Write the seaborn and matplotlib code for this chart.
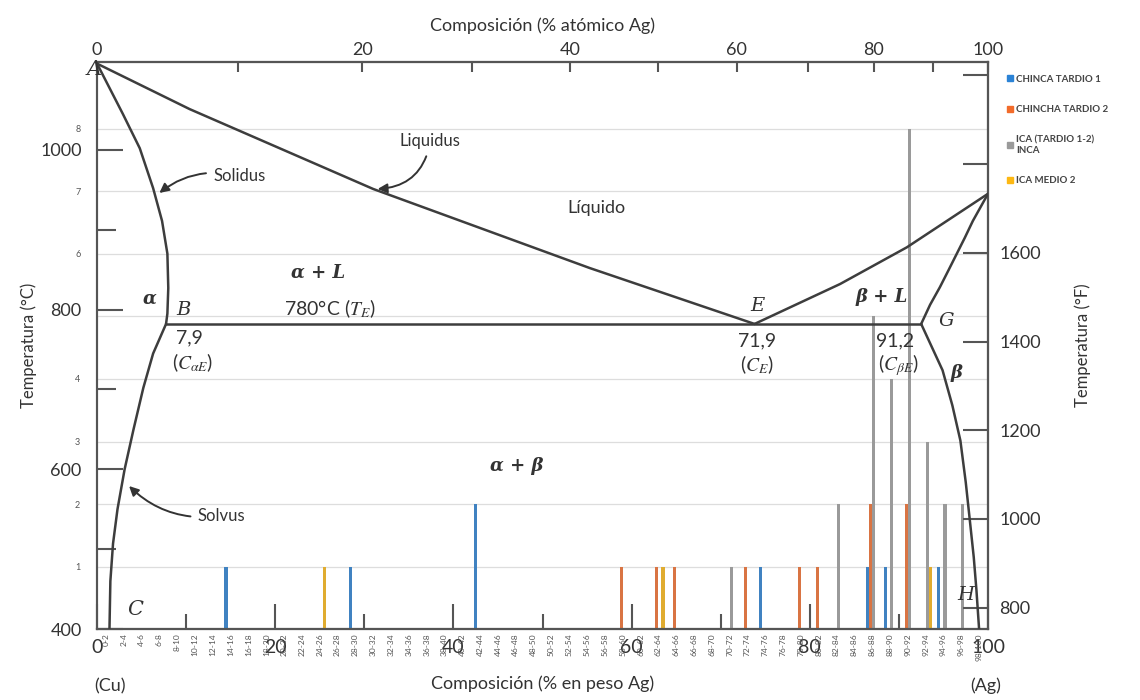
import numpy as np
import pandas as pd
import matplotlib.pyplot as plt
import seaborn as sns
from matplotlib.patches import Patch

# --- histogram data: lower edge of 2 wt% bins and counts per group ---
blue_bins = [14, 28, 42, 74, 86, 88, 94]
blue_counts = [1, 1, 2, 1, 1, 1, 1]
orange_bins = [58, 62, 64, 72, 78, 80, 86, 90]
orange_counts = [1, 1, 1, 1, 1, 1, 2, 2]
grey_bins = [70, 82, 86, 88, 90, 92, 94, 96]
grey_counts = [1, 2, 5, 4, 8, 3, 2, 2]
yellow_bins = [24, 62, 92]
yellow_counts = [1, 1, 1]

series = ["CHINCA TARDIO 1", "CHINCHA TARDIO 2", "ICA (TARDIO 1-2)\nINCA", "ICA MEDIO 2"]
colors = ["#2b83d6", "#f26b2a", "#9a9a9a", "#fdb813"]
bin_labels = [f"{i}-{i + 2}" for i in range(0, 100, 2)]
count_labels = ["1", "2", "3", "4", "", "6", "7", "8"]

# --- Cu-Ag phase diagram (wt% Ag, degC) ---
liq_left_w = [0, 10.4, 31.0, 55.3, 73.8]
liq_left_t = [1108, 1051, 951, 852, 782]
liq_right_w = [73.8, 83.4, 90.9, 100]
liq_right_t = [782, 832, 878, 945]
sol_left_w = [0, 2.9, 4.8, 6.3, 7.3, 7.9, 8.0, 7.9, 7.75]
sol_left_t = [1108, 1045, 1002, 952, 911, 870, 827, 795, 782]
solv_left_w = [7.75, 6.3, 5.2, 4.1, 3.1, 2.3, 1.8, 1.5, 1.4]
solv_left_t = [782, 745, 702, 650, 600, 550, 507, 460, 400]
sol_right_w = [92.5, 93.5, 94.6, 95.6, 96.5, 97.4, 98.3, 100]
sol_right_t = [782, 806, 828, 850, 870, 890, 911, 945]
solv_right_w = [92.5, 93.7, 94.9, 96.0, 96.9, 97.5, 98.0, 98.4, 98.7, 99.0]
solv_right_t = [782, 753, 724, 680, 636, 584, 532, 490, 449, 400]
eut_w = [7.75, 92.5]
eut_t = [782, 782]

sns.set_style("white")
plt.rcParams["font.family"] = ["Lato", "DejaVu Sans"]
plt.rcParams["mathtext.fontset"] = "stix"

line_c = "#3d3d3d"
text_c = "#333333"

rows = []
for name, bins, counts in zip(series, [blue_bins, orange_bins, grey_bins, yellow_bins],
                              [blue_counts, orange_counts, grey_counts, yellow_counts]):
    for b, c in zip(bins, counts):
        rows.append({"centro": b + 1, "serie": name, "n": c})
df = pd.DataFrame(rows)

fig = plt.figure(figsize=(11.4, 7), dpi=100)
ax = fig.add_axes([97 / 1140, 71 / 700, 891 / 1140, 567 / 700])

sns.barplot(data=df, x="centro", y="n", hue="serie", hue_order=series, palette=colors,
            native_scale=True, width=0.7, errorbar=None, legend=False, ax=ax,
            linewidth=0, zorder=2)
ax.set_xlim(0, 100)
ax.set_ylim(0, 567 / 62.5)
ax.set_xlabel("")
ax.set_ylabel("")
ax.set_xticks(np.arange(1, 100, 2), bin_labels, rotation=90, fontsize=6)
ax.tick_params(axis="x", length=0, pad=3, labelcolor="#555555")
ax.set_yticks(range(1, 9), count_labels)
ax.tick_params(axis="y", length=0, pad=12, labelsize=6.5, labelcolor="#555555")
ax.yaxis.grid(True, color="#dddddd", lw=0.9)
ax.set_axisbelow(True)
for s in ax.spines.values():
    s.set_color("#555555")
    s.set_linewidth(1.5)

# temperature axis for the phase diagram
tax = ax.twinx()
tax.set_ylim(400, 1110)
tax.yaxis.tick_left()
tax.yaxis.set_label_position("left")
tax.set_yticks([400, 600, 800, 1000])
tax.set_yticks([500, 700, 900], minor=True)
tax.tick_params(axis="y", which="major", direction="in", length=19, width=1.5,
                labelsize=13, pad=11, color="#555555", labelcolor=text_c)
tax.tick_params(axis="y", which="minor", direction="in", length=14, width=1.5, color="#555555")
tax.set_ylabel("Temperatura (°C)", fontsize=12, color=text_c, labelpad=2)
for s in tax.spines.values():
    s.set_color("#555555")
    s.set_linewidth(1.5)

for w, t in [(liq_left_w, liq_left_t), (liq_right_w, liq_right_t), (sol_left_w, sol_left_t),
             (solv_left_w, solv_left_t), (sol_right_w, sol_right_t),
             (solv_right_w, solv_right_t), (eut_w, eut_t)]:
    tax.plot(w, t, color=line_c, lw=1.8, zorder=3, solid_joinstyle="round")


def c2f(c):
    return np.asarray(c) * 9 / 5 + 32


def f2c(f):
    return (np.asarray(f) - 32) * 5 / 9


fax = tax.secondary_yaxis("right", functions=(c2f, f2c))
fax.set_yticks([800, 1000, 1200, 1400, 1600, 1800, 2000],
               ["800", "1000", "1200", "1400", "1600", "", ""])
fax.tick_params(direction="in", length=18, width=1.5, labelsize=13, pad=8,
                color="#555555", labelcolor=text_c)
fax.set_ylabel("Temperatura (°F)", fontsize=12, color=text_c, labelpad=24)
fax.spines["right"].set_color("#555555")
fax.spines["right"].set_linewidth(1.5)


def w2a(w):
    w = np.asarray(w, dtype=float)
    with np.errstate(divide="ignore", invalid="ignore"):
        return (w / 107.87) / (w / 107.87 + (100 - w) / 63.55) * 100


def a2w(a):
    a = np.asarray(a, dtype=float)
    with np.errstate(divide="ignore", invalid="ignore"):
        return a * 107.87 / (a * 107.87 + (100 - a) * 63.55) * 100


top = ax.secondary_xaxis("top", functions=(w2a, a2w))
top.set_xticks([0, 20, 40, 60, 80, 100])
top.set_xticks([10, 30, 50, 70, 90], minor=True)
top.tick_params(which="both", direction="in", length=7, width=1.5, labelsize=13, pad=3,
                color="#555555", labelcolor=text_c)
top.set_xlabel("Composición (% atómico Ag)", fontsize=13, color=text_c, labelpad=8)
top.spines["top"].set_color("#555555")
top.spines["top"].set_linewidth(1.5)

bot = ax.secondary_xaxis("bottom")
bot.set_xticks([0, 20, 40, 60, 80, 100])
bot.set_xticks([10, 30, 50, 70, 90], minor=True)
bot.tick_params(which="major", direction="in", length=18, width=1.5, labelsize=14, pad=7,
                color="#555555", labelcolor=text_c)
bot.tick_params(which="minor", direction="in", length=11, width=1.5, color="#555555")
bot.set_xlabel("Composición (% en peso Ag)", fontsize=13, color=text_c, labelpad=14)
bot.spines["bottom"].set_color("#555555")
bot.spines["bottom"].set_linewidth(1.5)

# --- diagram labels ---
serif_it = dict(family="DejaVu Serif", style="italic", color=text_c, ha="center", va="center")
sans = dict(color=text_c, ha="center", va="center")
tax.text(-0.3, 1101, "A", fontsize=15, clip_on=False, **serif_it)
tax.text(24.8, 846, "α + L", fontsize=13, weight="bold", **serif_it)
tax.text(5.9, 814, "α", fontsize=13, weight="bold", **serif_it)
tax.text(9.7, 799, "B", fontsize=14, **serif_it)
tax.text(74.1, 805, "E", fontsize=14, **serif_it)
tax.text(88.1, 816, "β + L", fontsize=13, weight="bold", **serif_it)
tax.text(95.3, 786, "G", fontsize=14, **serif_it)
tax.text(96.5, 721, "β", fontsize=13, weight="bold", **serif_it)
tax.text(47.1, 604, "α + β", fontsize=13, weight="bold", **serif_it)
tax.text(4.3, 424, "C", fontsize=15, **serif_it)
tax.text(97.5, 442, "H", fontsize=14, **serif_it)

tax.text(56.1, 927, "Líquido", fontsize=13, **sans)
tax.text(26.1, 801, "780°C ($T_E$)", fontsize=14, **sans)
tax.text(10.4, 764, "7,9", fontsize=14, **sans)
tax.text(10.7, 734, r"($C_{\alpha E}$)", fontsize=14, **sans)
tax.text(74.1, 761, "71,9", fontsize=14, **sans)
tax.text(74.1, 731, r"($C_E$)", fontsize=14, **sans)
tax.text(89.6, 761, "91,2", fontsize=14, **sans)
tax.text(89.9, 731, r"($C_{\beta E}$)", fontsize=14, **sans)

arrow = dict(arrowstyle="-|>", color=text_c, lw=1.4, mutation_scale=14, shrinkA=3, shrinkB=0)
tax.annotate("Solidus", xy=(7.0, 946), xytext=(16.0, 967), fontsize=12, **sans,
             arrowprops=dict(arrow, connectionstyle="arc3,rad=0.25"))
tax.annotate("Liquidus", xy=(31.5, 951), xytext=(37.4, 1011), fontsize=12, **sans,
             arrowprops=dict(arrow, connectionstyle="arc3,rad=-0.4"))
tax.annotate("Solvus", xy=(3.6, 579), xytext=(14.0, 542), fontsize=12, **sans,
             arrowprops=dict(arrow, connectionstyle="arc3,rad=-0.25"))

fig.text(110 / 1140, 1 - 686 / 700, "(Cu)", fontsize=13, **sans)
fig.text(986 / 1140, 1 - 686 / 700, "(Ag)", fontsize=13, **sans)

handles = [Patch(color=c) for c in colors]
fig.legend(handles, series, loc="upper left", bbox_to_anchor=(998 / 1140, 1 - 66 / 700),
           frameon=False, prop=dict(size=7, weight="bold"), handlelength=0.6,
           handleheight=0.6, labelspacing=2.2, handletextpad=0.4, labelcolor="#444444")

fig.savefig("out.png", dpi=100)
